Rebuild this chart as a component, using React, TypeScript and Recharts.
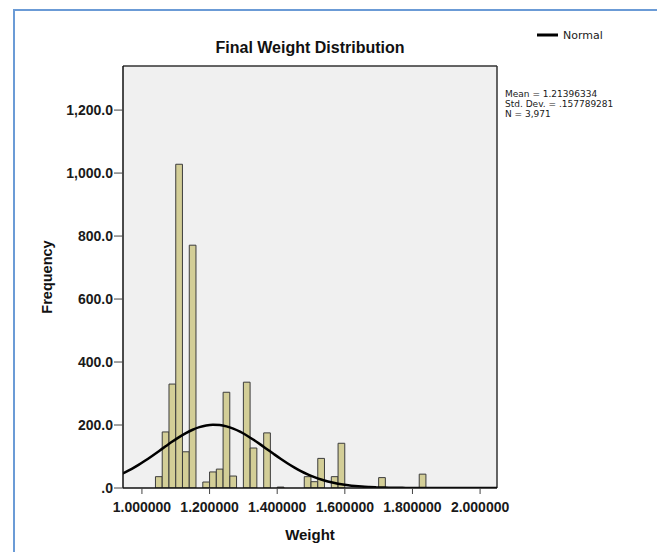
import React from 'react';
import {
  ComposedChart,
  Bar,
  Line,
  XAxis,
  YAxis,
  CartesianGrid,
  Legend,
  ReferenceLine,
} from 'recharts';

// Histogram bins (bin centres, bin width 0.02) and their frequencies
const binCenters = [1.05, 1.07, 1.09, 1.11, 1.13, 1.15, 1.19, 1.21, 1.23, 1.25, 1.27, 1.31, 1.33, 1.37, 1.41, 1.49, 1.51, 1.53, 1.57, 1.59, 1.71, 1.83];
const binCounts = [36, 178, 330, 1028, 115, 771, 19, 51, 60, 304, 38, 336, 127, 175, 3, 36, 20, 94, 36, 142, 33, 44];

// Normal curve at the same 0.02 grid
const curveX = [0.93, 0.95, 0.97, 0.99, 1.01, 1.03, 1.05, 1.07, 1.09, 1.11, 1.13, 1.15, 1.17, 1.19, 1.21, 1.23, 1.25, 1.27, 1.29, 1.31, 1.33, 1.35, 1.37, 1.39, 1.41, 1.43, 1.45, 1.47, 1.49, 1.51, 1.53, 1.55, 1.57, 1.59, 1.61, 1.63, 1.65, 1.67, 1.69, 1.71, 1.73, 1.75, 1.77, 1.79, 1.81, 1.83, 1.85, 1.87, 1.89, 1.91, 1.93, 1.95, 1.97, 1.99, 2.01, 2.03, 2.05, 2.07];
const curveY = [39.8, 49.6, 60.8, 73.3, 87.1, 101.8, 117.0, 132.4, 147.5, 161.6, 174.3, 185.0, 193.2, 198.5, 200.7, 199.8, 195.6, 188.5, 178.8, 166.8, 153.2, 138.5, 123.2, 107.8, 92.8, 78.7, 65.6, 53.8, 43.5, 34.5, 27.0, 20.8, 15.7, 11.7, 8.6, 6.2, 4.4, 3.1, 2.1, 1.4, 1.0, 0.6, 0.4, 0.3, 0.2, 0.1, 0.1, 0, 0, 0, 0, 0, 0, 0, 0, 0, 0, 0];

const xTicks = [1.0, 1.2, 1.4, 1.6, 1.8, 2.0];
const yTicks = [0, 200, 400, 600, 800, 1000, 1200];
const xDomain = [0.944, 2.05];
const yDomain = [0, 1340];

const titleText = 'Final Weight Distribution';
const xLabel = 'Weight';
const yLabel = 'Frequency';
const seriesName = 'Normal';
const statsLines = ['Mean = 1.21396334', 'Std. Dev. = .157789281', 'N = 3,971'];

// Build the merged table used by Recharts
const keyOf = (v: number) => Math.round(v * 1000);
const rowMap = new Map<number, { x: number; count?: number; normal?: number }>();
curveX.forEach((x, i) => {
  rowMap.set(keyOf(x), { x, normal: curveY[i] });
});
binCenters.forEach((x, i) => {
  const k = keyOf(x);
  const row = rowMap.get(k) || { x };
  row.count = binCounts[i];
  rowMap.set(k, row);
});
const data = Array.from(rowMap.values()).sort((a, b) => a.x - b.x);

const AXIS_FONT = '"Liberation Sans", Arial, Helvetica, sans-serif';
const STAT_FONT = '"DejaVu Sans", Verdana, sans-serif';
const tickStyle = { fill: '#1a1a1a', fontSize: 14, fontWeight: 'bold', fontFamily: AXIS_FONT };

const formatY = (v: number) =>
  v === 0 ? '.0' : v.toLocaleString('en-US', { minimumFractionDigits: 1, maximumFractionDigits: 1 });
const formatX = (v: number) => v.toFixed(6);

const LegendContent = (props: any) => {
  const items = (props.payload || []).filter((p: any) => p.type !== 'none');
  return (
    <svg width={120} height={20} style={{ display: 'block' }}>
      {items.map((p: any, i: number) => (
        <g key={i}>
          <line x1={8} y1={10} x2={29} y2={10} stroke="#000" strokeWidth={3} />
          <text x={34} y={14} fontFamily={STAT_FONT} fontSize={11} fill="#1a1a1a">
            {p.value}
          </text>
        </g>
      ))}
    </svg>
  );
};

export default function App() {
  return (
    <div
      style={{
        position: 'relative',
        width: 665,
        height: 560,
        margin: -8,
        overflow: 'hidden',
        background: '#fff',
      }}
    >
      <div
        style={{
          position: 'absolute',
          left: 13,
          top: 9,
          width: 644,
          height: 620,
          border: '2px solid #6b9bd6',
          boxSizing: 'content-box',
        }}
      />
      <div style={{ position: 'absolute', left: 0, top: 0 }}>
        <ComposedChart
          width={665}
          height={560}
          data={data}
          margin={{ top: 66, right: 168, bottom: 0, left: 0 }}
        >
          <CartesianGrid fill="#f0f0f0" horizontal={false} vertical={false} stroke="none" />
          <XAxis
            dataKey="x"
            type="number"
            domain={xDomain}
            allowDataOverflow
            ticks={xTicks}
            interval={0}
            tickFormatter={formatX}
            height={72}
            tickSize={6}
            tickMargin={8}
            tick={tickStyle}
            axisLine={{ stroke: '#111', strokeWidth: 1.5 }}
            tickLine={{ stroke: '#444' }}
          />
          <YAxis
            type="number"
            domain={yDomain}
            allowDataOverflow
            ticks={yTicks}
            interval={0}
            tickFormatter={formatY}
            width={123}
            tickSize={9}
            tickMargin={1}
            tick={tickStyle}
            axisLine={{ stroke: '#111', strokeWidth: 1.5 }}
            tickLine={{ stroke: '#444' }}
          />
          <ReferenceLine y={yDomain[1]} stroke="#333" strokeWidth={1.5} ifOverflow="visible" />
          <ReferenceLine x={xDomain[1]} stroke="#333" strokeWidth={1.5} ifOverflow="visible" />
          <Bar
            dataKey="count"
            name="Frequency"
            fill="#d3ce97"
            stroke="#3c3c3c"
            strokeWidth={1}
            barSize={6.7}
            legendType="none"
            isAnimationActive={false}
          />
          <Line
            dataKey="normal"
            name={seriesName}
            type="monotone"
            stroke="#000"
            strokeWidth={2.5}
            dot={false}
            activeDot={false}
            connectNulls
            legendType="plainline"
            isAnimationActive={false}
          />
          <Legend
            layout="horizontal"
            align="center"
            verticalAlign="middle"
            content={<LegendContent />}
            wrapperStyle={{ left: 529, top: 25, width: 120, height: 20 }}
          />
        </ComposedChart>
      </div>
      <svg
        width={665}
        height={560}
        style={{ position: 'absolute', left: 0, top: 0, pointerEvents: 'none' }}
      >
        <text
          x={310}
          y={53}
          textAnchor="middle"
          fontFamily={AXIS_FONT}
          fontWeight="bold"
          fontSize={16}
          fill="#111"
        >
          {titleText}
        </text>
        <text
          transform="translate(52 277) rotate(-90)"
          textAnchor="middle"
          fontFamily={AXIS_FONT}
          fontWeight="bold"
          fontSize={14.5}
          fill="#111"
        >
          {yLabel}
        </text>
        <text
          x={310}
          y={540}
          textAnchor="middle"
          fontFamily={AXIS_FONT}
          fontWeight="bold"
          fontSize={15}
          fill="#111"
        >
          {xLabel}
        </text>
        {statsLines.map((s, i) => (
          <text
            key={i}
            x={505}
            y={97 + i * 10}
            fontFamily={STAT_FONT}
            fontSize={9}
            fill="#1a1a1a"
          >
            {s}
          </text>
        ))}
      </svg>
    </div>
  );
}
